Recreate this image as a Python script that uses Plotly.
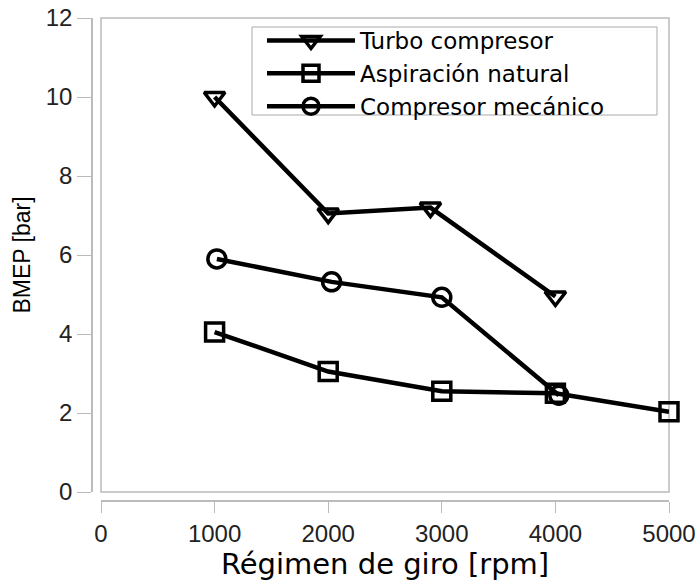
import plotly.graph_objects as go

turbo_x = [1000, 2000, 2900, 4000]
turbo_y = [10.0, 7.05, 7.2, 4.95]
nat_x = [1000, 2000, 3000, 4000, 5000]
nat_y = [4.05, 3.05, 2.55, 2.5, 2.03]
mec_x = [1020, 2030, 3000, 4030]
mec_y = [5.9, 5.32, 4.93, 2.45]

names = ["Turbo compresor", "Aspiración natural", "Compresor mecánico"]
x_ticks = [0, 1000, 2000, 3000, 4000, 5000]
y_ticks = [0, 2, 4, 6, 8, 10, 12]

W, H = 699, 586
L, R, T, B = 92, 669, 18, 501
pw, ph = R - L, B - T

fig = go.Figure()
for xs, ys, nm, sym in [(turbo_x, turbo_y, names[0], "triangle-down-open"),
                        (nat_x, nat_y, names[1], "square-open"),
                        (mec_x, mec_y, names[2], "circle-open")]:
    fig.add_trace(go.Scatter(x=xs, y=ys, name=nm, mode="lines+markers",
                             line=dict(color="black", width=4.5),
                             marker=dict(symbol=sym, size=18, color="black",
                                         line=dict(color="black", width=3.5)),
                             cliponaxis=False))

# plot-area frame
fig.add_shape(type="rect", xref="x domain", yref="y domain", x0=0, x1=1, y0=0, y1=1,
              line=dict(color="#bbbbbb", width=1.5), layer="below")
# legend frame
fig.add_shape(type="rect", xref="paper", yref="paper",
              x0=(252 - L) / pw, x1=(657 - L) / pw,
              y0=(B - 115) / ph, y1=(B - 27) / ph,
              line=dict(color="#aaaaaa", width=1), fillcolor="white", layer="below")

fig.update_layout(
    width=W, height=H,
    margin=dict(l=L, r=W - R, t=T, b=H - B, pad=0, autoexpand=False),
    paper_bgcolor="white", plot_bgcolor="white",
    font=dict(family="Liberation Sans, Arial", color="#222222"),
    xaxis=dict(domain=[9 / pw, 1], range=[0, 5000], anchor="free", position=0,
               automargin=False,
               tickvals=x_ticks, ticks="outside", ticklen=11, tickcolor="#bbbbbb",
               showline=True, linecolor="#bbbbbb", linewidth=1.5, showgrid=False,
               zeroline=False, tickfont=dict(size=24, family="Liberation Sans, Arial"),
               title=dict(text="Régimen de giro [rpm]", standoff=6,
                          font=dict(size=29, family="DejaVu Sans", color="black"))),
    yaxis=dict(domain=[9 / ph, 1], range=[0, 12], anchor="free", position=0,
               automargin=False,
               tickvals=y_ticks, ticks="outside", ticklen=14, tickcolor="#bbbbbb",
               showline=True, linecolor="#bbbbbb", linewidth=1.5, showgrid=False,
               zeroline=False, tickfont=dict(size=24, family="Liberation Sans, Arial"),
               title=dict(text="BMEP [bar]", standoff=8,
                          font=dict(size=23, family="Liberation Sans, Arial", color="black"))),
    legend=dict(x=(262 - L) / pw, y=(B - 19) / ph, xanchor="left", yanchor="top",
                borderwidth=0, bgcolor="rgba(0,0,0,0)",
                font=dict(size=23, family="DejaVu Sans", color="black"),
                itemwidth=88, tracegroupgap=0),
    showlegend=True,
)

fig.write_html("out.html")
